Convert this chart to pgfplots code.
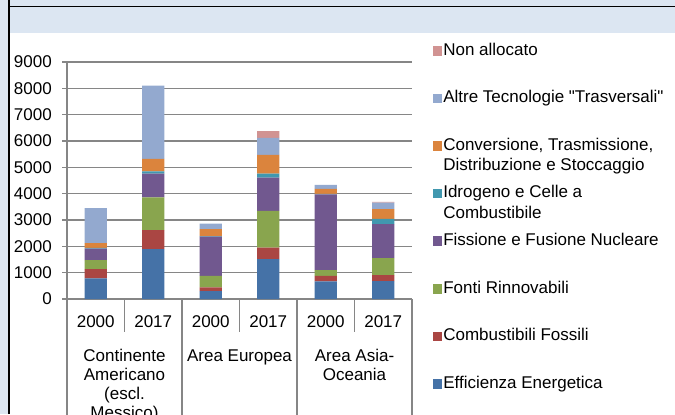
\documentclass[border=0pt]{standalone}
\usepackage{fontspec}
\setmainfont{Liberation Sans}
\newfontfamily\rawf{Liberation Sans}
\usepackage{pgfplots}
\pgfplotsset{compat=1.18}
\usepackage{pgfplotstable}
\definecolor{cEff}{HTML}{4572A7}
\definecolor{cFoss}{HTML}{AA4643}
\definecolor{cRinn}{HTML}{89A54E}
\definecolor{cFiss}{HTML}{71588F}
\definecolor{cIdro}{HTML}{4198AF}
\definecolor{cConv}{HTML}{DB843D}
\definecolor{cAltre}{HTML}{93A9CF}
\definecolor{cNon}{HTML}{D19392}
\definecolor{gridc}{HTML}{868686}
\definecolor{bandc}{HTML}{DCE6F2}
\newcommand\ff{\fontsize{17bp}{20.5bp}\selectfont}
\newcommand\gf{\fontsize{17bp}{19bp}\selectfont}
\pgfplotsset{sq/.style={legend image code/.code={\fill[##1] (0bp,-0.5bp) rectangle (9bp,9bp);}}}

\pgfplotstableread{
x eff foss rinn fiss idro conv altre non
0 780 356 341 440 20 184 1326 0
1 1894 720 1250 894 90 478 2780 0
2 295 145 440 1490 20 260 210 0
3 1515 440 1390 1261 152 719 644 254
4 667 216 215 2879 20 181 152 0
5 682 227 644 1288 201 367 250 30
}\data

\begin{document}
\begin{tikzpicture}[x=1bp,y=1bp]
\useasboundingbox (0,0) rectangle (675,414);
\clip (0,0) rectangle (675,414);
\fill[bandc] (0,381) rectangle (675,414);
\fill[bandc] (0,0) rectangle (8,414);
\draw[black, line width=1.5bp] (8,407.5) -- (675,407.5);
\draw[black, line width=1.5bp] (9,0) -- (9,414);
\begin{axis}[
  at={(67bp,115bp)}, anchor=south west, scale only axis,
  width=345bp, height=237bp,
  xmin=-0.5, xmax=5.5, ymin=0, ymax=9000,
  ybar stacked, bar width=22.3bp,
  axis lines*=left,
  axis line style={gridc, line width=1.2bp},
  ymajorgrids, grid style={gridc, line width=1.2bp},
  ytick={0,1000,...,9000},
  scaled y ticks=false,
  yticklabel style={/pgf/number format/1000 sep={}, inner sep=0pt, anchor=east, xshift=-10bp},
  /pgf/number format/assume math mode=true,
  tick align=outside, major tick length=5bp,
  ytick style={gridc, line width=1.2bp},
  xtick={0,...,5},
  xticklabels={2000,2017,2000,2017,2000,2017},
  xtick style={draw=none},
  xticklabel style={anchor=base, inner sep=0pt, yshift=-23bp},
  font=\ff,
  clip=false,
  reverse legend,
  legend style={at={(1,1)}, anchor=north west, xshift=21.3bp, yshift=19bp,
    draw=none, fill=none, inner sep=0pt, outer sep=0pt, row sep=0pt, column sep=1bp,
    font=\ff, cells={anchor=base west},
    nodes={inner sep=0pt, text height=12bp, text depth=35.6bp}},
]
\addplot[fill=cEff, draw=none, sq] table[x=x, y=eff]{\data};
\addlegendentry{Efficienza Energetica}
\addplot[fill=cFoss, draw=none, sq] table[x=x, y=foss]{\data};
\addlegendentry{Combustibili Fossili}
\addplot[fill=cRinn, draw=none, sq] table[x=x, y=rinn]{\data};
\addlegendentry{Fonti Rinnovabili}
\addplot[fill=cFiss, draw=none, sq] table[x=x, y=fiss]{\data};
\addlegendentry{Fissione e Fusione Nucleare}
\addplot[fill=cIdro, draw=none, sq] table[x=x, y=idro]{\data};
\addlegendentry{\parbox[t]{230bp}{Idrogeno e Celle a\\Combustibile}}
\addplot[fill=cConv, draw=none, sq] table[x=x, y=conv]{\data};
\addlegendentry{\parbox[t]{230bp}{Conversione, Trasmissione,\\Distribuzione e Stoccaggio}}
\addplot[fill=cAltre, draw=none, sq] table[x=x, y=altre]{\data};
\addlegendentry{Altre Tecnologie {\rawf "}Trasversali{\rawf "}}
\addplot[fill=cNon, draw=none, sq] table[x=x, y=non]{\data};
\addlegendentry{Non allocato}
\draw[gridc, line width=1.2bp] (axis cs:-0.5,0) -- ++(0bp,-130bp);
\draw[gridc, line width=1.2bp] (axis cs:1.5,0) -- ++(0bp,-130bp);
\draw[gridc, line width=1.2bp] (axis cs:3.5,0) -- ++(0bp,-130bp);
\draw[gridc, line width=1.2bp] (axis cs:5.5,0) -- ++(0bp,-130bp);
\draw[gridc, line width=1.2bp] (axis cs:0.5,0) -- ++(0bp,-33bp);
\draw[gridc, line width=1.2bp] (axis cs:2.5,0) -- ++(0bp,-33bp);
\draw[gridc, line width=1.2bp] (axis cs:4.5,0) -- ++(0bp,-33bp);
\node[anchor=base, yshift=-62bp, inner sep=0pt] at (axis cs:0.5,0) {\parbox[t]{112bp}{\gf\centering Continente\\Americano\\(escl.\\Messico)}};
\node[anchor=base, yshift=-62bp, inner sep=0pt] at (axis cs:2.5,0) {\parbox[t]{112bp}{\gf\centering Area Europea}};
\node[anchor=base, yshift=-62bp, inner sep=0pt] at (axis cs:4.5,0) {\parbox[t]{112bp}{\gf\centering Area Asia-\\Oceania}};
\end{axis}
\end{tikzpicture}
\end{document}
